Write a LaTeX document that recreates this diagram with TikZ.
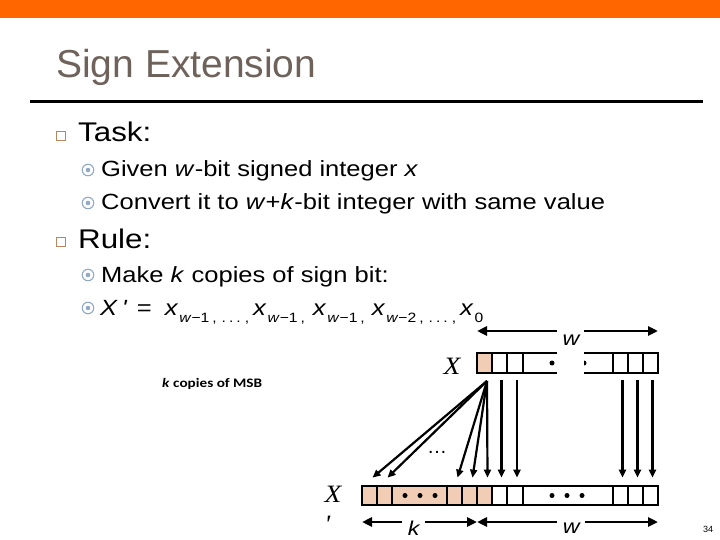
\documentclass[tikz,border=0pt]{standalone}
\usepackage{fontspec}
\setmainfont{Liberation Sans}
\newfontfamily\bodyfont[FakeStretch=1.16]{Liberation Sans}
\newfontfamily\serifx[FakeStretch=1.1]{Liberation Serif}
\newfontfamily\calib[FakeStretch=1.17]{Carlito}
\usepackage{tikz}
\usetikzlibrary{positioning}
\usetikzlibrary{arrows.meta}
\pgfdeclarelayer{background}
\pgfdeclarelayer{foreground}
\pgfsetlayers{background,main,foreground}

\definecolor{barorange}{HTML}{FF6600}
\definecolor{titlegray}{HTML}{6E625A}
\definecolor{peach}{HTML}{F0CDB4}
\definecolor{bulblue}{HTML}{8FA9C6}
\definecolor{sqbrown}{HTML}{B9875F}
\newcommand{\subx}[1]{\raisebox{-7.5pt}{\fontsize{13.5}{13.5}\selectfont #1}}
\newcommand{\subdots}{\hspace{3pt},\hspace{5pt}.\hspace{3pt}.\hspace{3pt}.\hspace{4pt},}

\begin{document}
\begin{tikzpicture}[x=1pt, y=-1pt,
					bitcell/.style={draw=black, line width=2.2pt, fill=white, minimum height=19.5pt, inner sep=0pt},
					signcell/.style={bitcell, fill=peach},
					bitarrow/.style={line width=2.2pt, -{Triangle[length=8pt,width=7pt]}},
					dimarrow/.style={line width=2.6pt, {Triangle[length=10pt,width=9pt]}-{Triangle[length=10pt,width=9pt]}},
					dimlabel/.style={fill=white, inner sep=0pt, minimum height=20pt, font=\bodyfont\fontsize{20}{20}\selectfont\itshape},
					sqbullet/.style={draw=sqbrown, line width=1.3pt, minimum size=9pt, inner sep=0pt},
					cbullet/.style={circle, draw=bulblue, line width=1.1pt, minimum size=11.5pt, inner sep=0pt,
						path picture={\fill[bulblue] (path picture bounding box.center) circle (2.3pt);}},
					headtext/.style={anchor=base west, inner sep=0pt, font=\bodyfont\fontsize{27}{27}\selectfont},
					subtext/.style={anchor=base west, inner sep=0pt, font=\bodyfont\fontsize{22}{22}\selectfont},
					reglabel/.style={inner sep=0pt, font=\serifx\itshape\fontsize{25}{25}\selectfont},
					]
					\useasboundingbox (0,0) rectangle (720,540);
					\fill[barorange] (0,0) rectangle (720,18);
					\node[anchor=base west, inner sep=0pt, text=titlegray, font=\fontsize{39}{39}\selectfont] (title) at (56,78) {Sign Extension};
					\draw[line width=3pt] (30,102) -- (703,102);
					
					%Text
					\node[sqbullet]      (sq1)      at  (61,136)     {};
					\node[headtext]      (task)     at  (78,142)     {Task:};
					\node[cbullet]       (cb1)      at  (88,170)     {};
					\node[subtext]       (given)    at  (101,177)    {Given \textit{w}-bit signed integer \textit{x}};
					\node[cbullet]       (cb2)      at  (88,203)     {};
					\node[subtext]       (convert)  at  (101,210)    {Convert it to \textit{w}+\textit{k}-bit integer with same value};
					\node[sqbullet]      (sq2)      at  (61,242)     {};
					\node[headtext]      (rule)     at  (78,248)     {Rule:};
					\node[cbullet]       (cb3)      at  (88,275)     {};
					\node[subtext]       (make)     at  (101,282)    {Make \textit{k} copies of sign bit:};
					\node[cbullet]       (cb4)      at  (88,308)     {};
					\node[subtext]       (xline)    at  (100,315)    {\textit{X}\hspace{4pt}\textit{\textquotesingle}\hspace{10pt}=\hspace{13pt}\textit{x}\hspace{1pt}\subx{\textit{w}−1\subdots}\hspace{4pt}\textit{x}\hspace{1pt}\subx{\textit{w}−1\hspace{3pt},}\hspace{8pt}\textit{x}\hspace{1pt}\subx{\textit{w}−1\hspace{3pt},}\hspace{7pt}\textit{x}\hspace{1pt}\subx{\textit{w}−2\subdots}\hspace{4pt}\textit{x}\hspace{1pt}\subx{0}};
					\node[anchor=west, inner sep=0pt, font=\calib\bfseries\fontsize{13}{13}\selectfont] (msbnote) at (162,384) {\textit{k} copies of MSB};
					\node[font=\fontsize{9}{9}\selectfont, inner sep=0pt] (page) at (708,529) {34};
					
					%Registers
					\node[signcell, minimum width=15pt]  (t0)  at  (484.5,363)  {};
					\foreach \name/\cx/\cw in {t1/499.5/15, t2/515/16, tm/568/90, t3/620.5/15, t4/635.5/15, t5/650.5/15}
						\node[bitcell, minimum width=\cw pt] (\name) at (\cx,363) {};
					\foreach \name/\cx/\cw in {b0/369.5/15, b1/384.5/15, b2/419.5/55, b3/454.5/15, b4/469.5/15, b5/484.5/15}
						\node[signcell, minimum width=\cw pt] (\name) at (\cx,495.5) {};
					\foreach \name/\cx/\cw in {b6/499.5/15, b7/515/16, bm/568/90, b8/620.5/15, b9/635.5/15, b10/650.5/15}
						\node[bitcell, minimum width=\cw pt] (\name) at (\cx,495.5) {};
					\foreach \dx in {552,568,584}
						\fill (\dx,363) circle (2.5pt);
					\foreach \dx in {405,420,435,552,567,582}
						\fill (\dx,495.5) circle (2.5pt);
					\node[reglabel]      (xold)     at  (452,366)    {X};
					\node[reglabel]      (xnew)     at  (333,494)    {X};
					\node[reglabel, below=14pt of xnew, xshift=-6pt] (xprime) {\textquotesingle};
					\node[font=\fontsize{20}{20}\selectfont, inner sep=0pt] (gap) at (437,452) {…};
					
					%Lines
					\coordinate (msb) at (487,381);
					\coordinate (wtl) at (477,331);
					\coordinate (wtr) at (658,331);
					\coordinate (kl)  at (362,522);
					\coordinate (km)  at (477,522);
					\coordinate (wbr) at (658,522);
					\begin{pgfonlayer}{background}
					\foreach \cell in {b0,b1,b3,b4,b5}
						\draw[bitarrow] (msb) -- ([xshift=3pt,yshift=7pt]\cell.north);
					\foreach \up/\down in {t1/b6,t2/b7,t3/b8,t4/b9,t5/b10}
						\draw[bitarrow] ([xshift=2pt,yshift=-6pt]\up.south) -- ([xshift=2pt,yshift=7pt]\down.north);
					\draw[dimarrow] (wtl) -- (wtr);
					\end{pgfonlayer}
					\fill[white] (557,325) rectangle (583.5,376);
					\node[dimlabel, fill=none] (wtop) at (571,340) {w};
					\draw[dimarrow] (kl) -- node[dimlabel, minimum width=23pt, pos=.45, yshift=-6pt] (klabel) {k} (km);
					\draw[dimarrow] (km) -- node[dimlabel, minimum width=28pt, pos=.52, yshift=-6pt] (wlabel) {w} (wbr);
				\end{tikzpicture}
\end{document}
